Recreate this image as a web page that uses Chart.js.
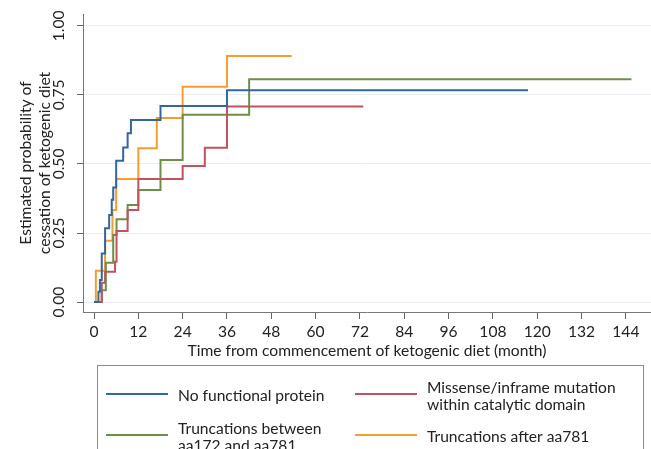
<!DOCTYPE html>
<html>
<head>
<meta charset="utf-8">
<script src="https://cdn.jsdelivr.net/npm/chart.js@4.4.1/dist/chart.umd.min.js"></script>
<style>
  html, body { margin: 0; padding: 0; background: #ffffff; }
</style>
</head>
<body>
<canvas id="km" width="651" height="449"></canvas>
<script>
// Kaplan-Meier style curves (months, probability)
const xTicks = [0, 12, 24, 36, 48, 60, 72, 84, 96, 108, 120, 132, 144];
const yTicks = [0, 0.25, 0.5, 0.75, 1];

const seriesNames = [
  ['No functional protein'],
  ['Missense/inframe mutation', 'within catalytic domain'],
  ['Truncations between', 'aa172 and aa781'],
  ['Truncations after aa781']
];
const seriesColors = ['#35669c', '#c0535e', '#6d8f47', '#f49d33'];

const noFunctionalTimes = [0, 1.2, 1.6, 2.1, 3.0, 4.1, 4.8, 5.2, 6.0, 7.9, 9.1, 10.0, 18.0, 36.0, 117.5];
const noFunctionalProbs = [0, 0.037, 0.08, 0.176, 0.267, 0.315, 0.37, 0.415, 0.512, 0.56, 0.611, 0.659, 0.71, 0.767, 0.767];

const missenseTimes = [0, 2.1, 3.0, 5.7, 6.1, 9.1, 12.0, 24.0, 30.0, 36.0, 72.9];
const missenseProbs = [0, 0.07, 0.11, 0.146, 0.257, 0.333, 0.446, 0.493, 0.559, 0.708, 0.708];

const truncBetweenTimes = [0, 2.1, 3.2, 5.2, 6.1, 9.1, 12.0, 18.0, 24.0, 42.0, 145.5];
const truncBetweenProbs = [0, 0.043, 0.142, 0.243, 0.3, 0.351, 0.406, 0.514, 0.678, 0.807, 0.807];

const truncAfterTimes = [0, 0.5, 3.0, 5.0, 6.0, 12.0, 17.0, 24.0, 36.0, 53.5];
const truncAfterProbs = [0, 0.113, 0.222, 0.333, 0.446, 0.557, 0.666, 0.78, 0.891, 0.891];

const seriesTimes = [noFunctionalTimes, missenseTimes, truncBetweenTimes, truncAfterTimes];
const seriesProbs = [noFunctionalProbs, missenseProbs, truncBetweenProbs, truncAfterProbs];

const FONT = 'Lato, "Open Sans", sans-serif';
const FS = 15.6;

const datasets = seriesNames.map((name, i) => ({
  label: name.join(' '),
  legendLines: name,
  data: seriesTimes[i].map((t, j) => ({ x: t, y: seriesProbs[i][j] })),
  borderColor: seriesColors[i],
  backgroundColor: seriesColors[i],
  borderWidth: 2,
  pointRadius: 0,
  stepped: true,
  fill: false
}));

// boxed two-column legend under the plot
const legendBox = {
  id: 'legendBox',
  afterDraw(chart) {
    const ctx = chart.ctx;
    const slots = [[106, 396], [355, 396], [106, 437], [355, 437]];
    ctx.save();
    ctx.strokeStyle = '#8c8c8c';
    ctx.lineWidth = 1;
    ctx.strokeRect(97.5, 365.5, 546, 120);
    ctx.font = FS + 'px ' + FONT;
    ctx.fillStyle = '#222';
    ctx.textBaseline = 'middle';
    chart.data.datasets.forEach((ds, i) => {
      const [x, y] = slots[i];
      ctx.strokeStyle = ds.borderColor;
      ctx.lineWidth = 2;
      ctx.beginPath();
      ctx.moveTo(x, y - 2);
      ctx.lineTo(x + 62, y - 2);
      ctx.stroke();
      const lines = ds.legendLines;
      const lh = 17;
      lines.forEach((txt, k) => {
        ctx.fillText(txt, x + 72, y + (k - (lines.length - 1) / 2) * lh);
      });
    });
    ctx.restore();
  }
};

new Chart(document.getElementById('km'), {
  type: 'line',
  data: { datasets: datasets },
  options: {
    responsive: false,
    animation: false,
    layout: { padding: { left: 0, right: 0, top: 14, bottom: 89 } },
    plugins: {
      legend: { display: false },
      tooltip: { enabled: false }
    },
    scales: {
      x: {
        type: 'linear',
        min: -2.98,
        max: 150.8,
        afterBuildTicks: (scale) => { scale.ticks = xTicks.map((v) => ({ value: v })); },
        afterFit: (scale) => { scale.height = 48; },
        grid: { drawOnChartArea: false, tickLength: 7, tickColor: '#666', lineWidth: 1 },
        border: { color: '#777', width: 1 },
        ticks: { color: '#222', font: { family: FONT, size: FS }, padding: 4, maxRotation: 0, autoSkip: false },
        title: {
          display: true,
          text: 'Time from commencement of ketogenic diet (month)',
          color: '#222',
          font: { family: FONT, size: FS },
          padding: { top: 0, bottom: 0 }
        }
      },
      y: {
        type: 'linear',
        min: -0.036,
        max: 1.043,
        afterBuildTicks: (scale) => { scale.ticks = yTicks.map((v) => ({ value: v })); },
        afterFit: (scale) => { scale.width = 83; },
        grid: { color: '#e6eef3', tickLength: 6, tickColor: '#666', lineWidth: 1 },
        border: { color: '#777', width: 1 },
        ticks: {
          color: '#222',
          font: { family: FONT, size: FS },
          padding: 3,
          minRotation: 90,
          maxRotation: 90,
          crossAlign: 'center',
          callback: (v) => Number(v).toFixed(2)
        },
        title: {
          display: true,
          text: ['Estimated probability of', 'cessation of ketogenic diet'],
          color: '#222',
          font: { family: FONT, size: FS, lineHeight: 1.22 },
          padding: { top: 16, bottom: 0 }
        }
      }
    }
  },
  plugins: [legendBox]
});
</script>
</body>
</html>
